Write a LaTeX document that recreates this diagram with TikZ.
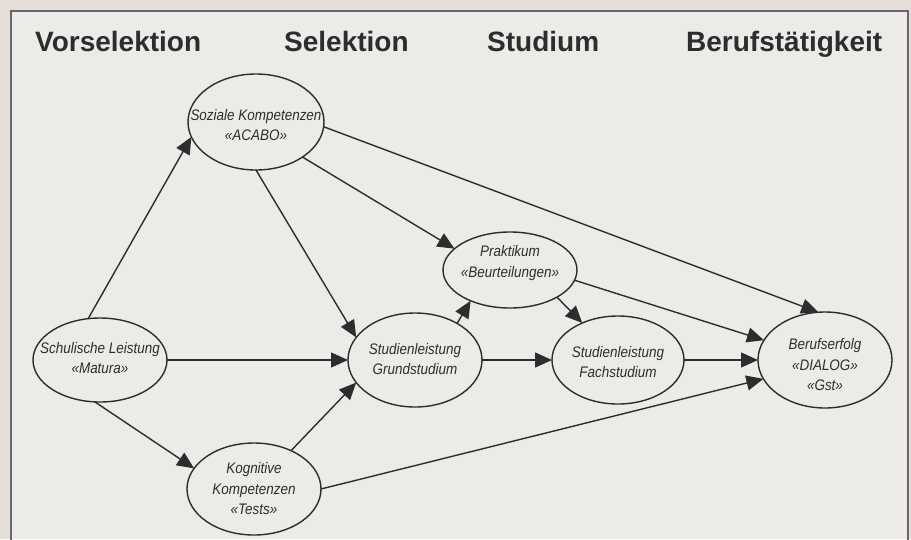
\documentclass[tikz,border=0pt]{standalone}
\usepackage{fontspec}
\setmainfont{Liberation Sans}
\newfontfamily\condit[FakeStretch=0.88]{Liberation Sans Italic}
\usetikzlibrary{arrows.meta,shapes.geometric}
\definecolor{bgout}{HTML}{E5DED6}
\definecolor{bgin}{HTML}{ECEBE7}
\definecolor{ink}{HTML}{2F2C2F}
\definecolor{framec}{HTML}{6A6570}
\tikzset{
  ell/.style={draw=ink, line width=1.4pt, ellipse, inner sep=0pt, outer sep=0pt},
  lbl/.style={text=ink, align=center, inner sep=0pt, font=\condit\fontsize{15.3}{20.5}\selectfont},
  head/.style={text=ink, anchor=base west, inner sep=0pt, font=\bfseries\fontsize{28}{30}\selectfont},
  arr/.style={draw=ink, line width=1.4pt, -{Triangle[length=17pt,width=15pt]}}
}
\begin{document}
\begin{tikzpicture}[x=1pt,y=-1pt]
\useasboundingbox (0,0) rectangle (911,539);
\fill[bgout] (0,0) rectangle (911,539);
\fill[bgin] (11,11) rectangle (908,539);
\draw[framec, line width=2pt] (11,545) -- (11,11) -- (908,11) -- (908,545);
% headings
\node[head] (h1) at (35,51) {Vorselektion};
\node[head] (h2) at (284,51) {Selektion};
\node[head] (h3) at (487,51) {Studium};
\node[head] (h4) at (686,51) {Berufstätigkeit};
% ellipses
\node[ell, minimum width=134pt, minimum height=84pt] (S) at (100,360) {};
\node[ell, minimum width=136pt, minimum height=96pt] (K) at (256,122) {};
\node[ell, minimum width=134pt, minimum height=92pt] (C) at (254,489) {};
\node[ell, minimum width=134pt, minimum height=94pt] (G) at (415,360) {};
\node[ell, minimum width=134pt, minimum height=76pt] (P) at (510,270) {};
\node[ell, minimum width=132pt, minimum height=88pt] (F) at (618,360) {};
\node[ell, minimum width=134pt, minimum height=96pt] (B) at (825,360) {};
% labels
\node[lbl] (tS) at (100,358) {Schulische Leistung\\«Matura»};
\node[lbl] (tK) at (256,125) {Soziale Kompetenzen\\«ACABO»};
\node[lbl] (tC) at (254,489) {Kognitive\\Kompetenzen\\«Tests»};
\node[lbl] (tG) at (415,359) {Studienleistung\\Grundstudium};
\node[lbl] (tP) at (510,263) {Praktikum\\«Beurteilungen»};
\node[lbl] (tF) at (618,362) {Studienleistung\\Fachstudium};
\node[lbl] (tB) at (825,365) {Berufserfolg\\«DIALOG»\\«Gst»};
% connectors
\draw[arr] (S.106) -- (K.193);
\draw[arr] (S.east) -- (G.west);
\draw[arr] (S.263) -- (C.161);
\draw[arr] (K.south) -- (G.159);
\draw[arr] (K.323) -- (P.159);
\draw[arr] (K.356) -- (B.98);
\draw[arr] (C.46) -- (G.201);
\draw[arr] (C.east) -- (B.197);
\draw[arr] (G.41) -- (P.218);
\draw[arr] (G.east) -- (F.west);
\draw[arr] (P.330) -- (F.134);
\draw[arr] (P.351) -- (B.162);
\draw[arr] (F.east) -- (B.west);
\end{tikzpicture}
\end{document}
